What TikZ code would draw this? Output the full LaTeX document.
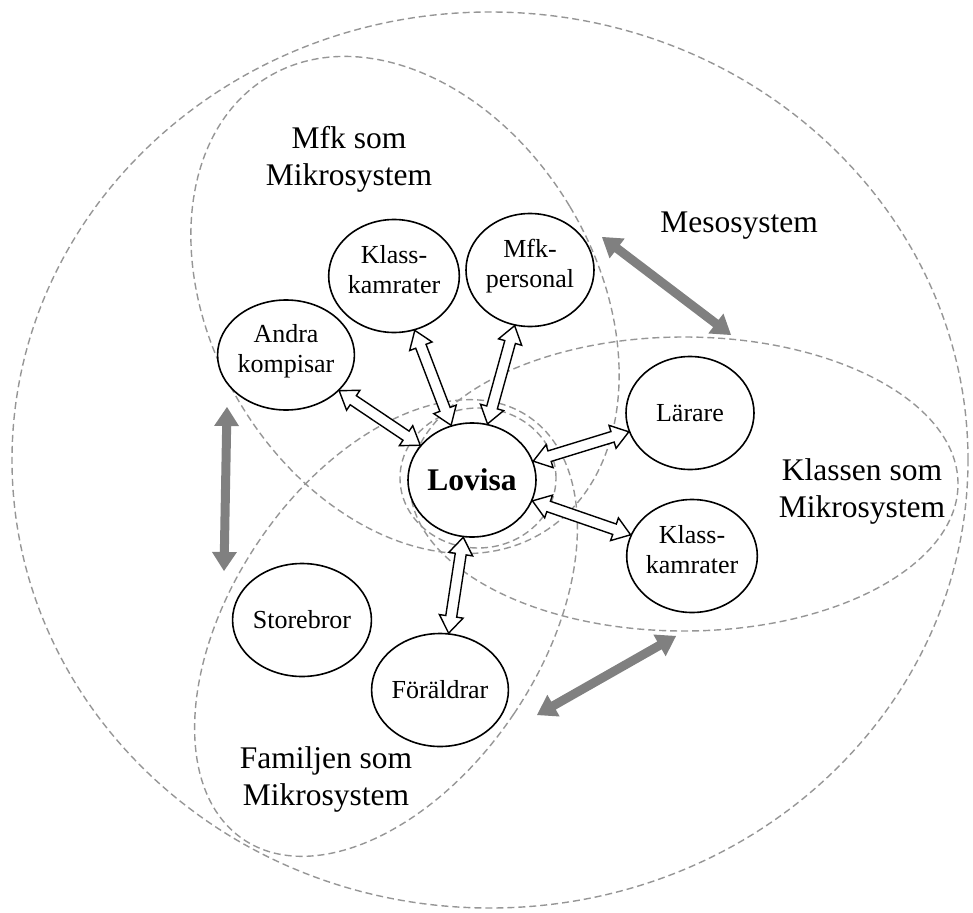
\documentclass[tikz,border=0pt]{standalone}
\usepackage{fontspec}
\setmainfont{Liberation Serif}
\usetikzlibrary{calc,shapes.geometric}

\definecolor{ringgray}{RGB}{150,150,150}
\definecolor{linkgray}{RGB}{128,128,128}

\tikzset{
  ring/.style={draw=ringgray, line width=1.4pt, dash pattern=on 7pt off 4pt},
  person/.style={ellipse, draw=black, line width=1.6pt, fill=white,
    minimum width=128pt, minimum height=113pt, inner sep=0pt, align=center,
    font=\fontsize{26}{30}\selectfont},
  syslabel/.style={align=center, inner sep=0pt, font=\fontsize{31.5}{37.5}\selectfont},
  tie/.style={draw=black, line width=1.4pt, fill=white, line join=miter},
  bridge/.style={fill=linkgray},
}

% struts that balance two-line names inside the ellipses
\newcommand\hi{\rule{0pt}{20pt}}
\newcommand\lo{\rule[-15pt]{0pt}{15pt}}

% two-headed block arrow between two nodes/coordinates
% #1 style, #2 from, #3 to, #4 head length, #5 half head width, #6 half shaft width
\newcommand\twoway[6]{%
  \path (#2) -- (#3) coordinate[pos=0] (twA) coordinate[pos=1] (twB);
  \path[#1] let \p1=(twA), \p2=(twB),
      \n1={atan2(\y2-\y1,\x2-\x1)}, \n2={veclen(\x2-\x1,\y2-\y1)} in
    (\p1)
    -- ($(\p1)+(\n1:#4pt)+({\n1+90}:#5pt)$)
    -- ($(\p1)+(\n1:#4pt)+({\n1+90}:#6pt)$)
    -- ($(\p1)+(\n1:{(\n2-#4)*1pt})+({\n1+90}:#6pt)$)
    -- ($(\p1)+(\n1:{(\n2-#4)*1pt})+({\n1+90}:#5pt)$)
    -- (\p2)
    -- ($(\p1)+(\n1:{(\n2-#4)*1pt})+({\n1-90}:#5pt)$)
    -- ($(\p1)+(\n1:{(\n2-#4)*1pt})+({\n1-90}:#6pt)$)
    -- ($(\p1)+(\n1:#4pt)+({\n1-90}:#6pt)$)
    -- ($(\p1)+(\n1:#4pt)+({\n1-90}:#5pt)$)
    -- cycle;
}

\begin{document}
\begin{tikzpicture}[x=1pt, y=-1pt]
\useasboundingbox (0,0) rectangle (973,912);

% systems
\draw[ring] (490,460) ellipse [x radius=478pt, y radius=448pt];
\draw[ring, rotate around={31:(405,305)}] (405,305) ellipse [x radius=192pt, y radius=266pt];
\draw[ring] (684,484) ellipse [x radius=274pt, y radius=147pt];
\draw[ring, rotate around={-34:(386,628)}] (386,628) ellipse [x radius=154pt, y radius=255pt];
\draw[ring] (478,478) ellipse [x radius=78pt, y radius=70pt];

% system labels
\node[syslabel, anchor=north] (mfklabel) at (349,121.75) {\strut Mfk som\\\strut Mikrosystem};
\node[syslabel, anchor=base] (mesolabel) at (739,232) {Mesosystem};
\node[syslabel, anchor=north] (klasslabel) at (862,453.75) {\strut Klassen som\\\strut Mikrosystem};
\node[syslabel, anchor=north] (famlabel) at (326,741.75) {\strut Familjen som\\\strut Mikrosystem};

% people
\node[person, minimum height=114pt, font=\fontsize{31.5}{36}\selectfont\bfseries] (lovisa) at (472,480) {Lovisa};
\node[person, minimum width=130pt, minimum height=110pt] (andra) at (286,355) {\hi Andra\\kompisar\lo};
\node[person] (klassA) at (394,276) {\hi Klass-\\kamrater\lo};
\node[person] (mfkp) at (530,270) {\hi Mfk-\\personal\lo};
\node[person] (larare) at (690,413) {Lärare};
\node[person] (klassB) at (692,556) {\hi Klass-\\kamrater\lo};
\node[person] (store) at (302,620) {Storebror};
\node[person] (foral) at (440,690) {Föräldrar};

% relations to Lovisa
\twoway{tie}{andra}{lovisa}{17}{12}{5.5}
\twoway{tie}{klassA}{lovisa}{17}{12}{5.5}
\twoway{tie}{mfkp}{lovisa}{17}{12}{5.5}
\twoway{tie}{larare}{lovisa}{17}{12}{5.5}
\twoway{tie}{klassB}{lovisa}{17}{12}{5.5}
\twoway{tie}{foral}{lovisa}{17}{12}{5.5}

% links between the microsystems
\coordinate (mesoA) at (602,237);
\coordinate (mesoB) at (731,335);
\coordinate (leftA) at (227,407);
\coordinate (leftB) at (224,571);
\coordinate (lowA) at (537,715);
\coordinate (lowB) at (676,636);
\twoway{bridge}{mesoA}{mesoB}{19}{12.5}{4.5}
\twoway{bridge}{leftA}{leftB}{19}{12.5}{4.5}
\twoway{bridge}{lowA}{lowB}{19}{12.5}{4.5}
\end{tikzpicture}
\end{document}
